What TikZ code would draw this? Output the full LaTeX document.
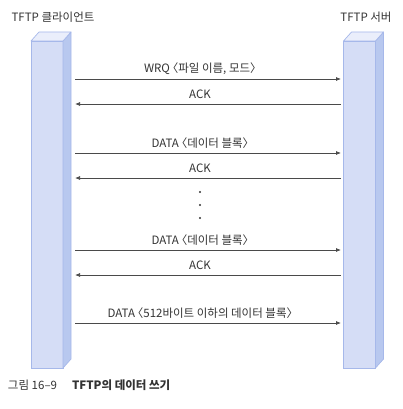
\documentclass[tikz,border=0pt]{standalone}
\usepackage{fontspec}
\setmainfont{Noto Sans CJK KR}[RawFeature=+halt]
\usetikzlibrary{arrows.meta}
\definecolor{barfront}{HTML}{D5DDF6}
\definecolor{barside}{HTML}{B8C8EF}
\definecolor{bartop}{HTML}{EAEEFB}
\definecolor{barline}{HTML}{A6B8EA}
\definecolor{msggray}{HTML}{4A4A4A}
\definecolor{txtgray}{HTML}{333333}

\begin{document}
\begin{tikzpicture}[
    x=1pt, y=-1pt,
    every node/.style={
        inner sep=0pt,
        outer sep=0pt,
        text=txtgray,
        font=\fontsize{11.5}{13}\selectfont,
    },
    front/.style={
        draw=barline, fill=barfront, rectangle,
        line width=.7pt,
        minimum width=32pt,
        minimum height=327pt,
    },
    side/.style={
        draw=barline, fill=barside,
        line width=.7pt, line join=round,
    },
    top/.style={
        draw=barline, fill=bartop,
        line width=.7pt, line join=round,
    },
    msg/.style={
        draw=msggray, line width=.75pt,
        -{Latex[length=5pt,width=4pt]},
    },
    dot/.style={
        circle, fill=txtgray,
        minimum size=2.4pt,
    }
]
    \useasboundingbox (0,0) rectangle (403,409);
    % the two bars
    \foreach \name/\x in {client/47,server/359.5}{
        \node[front] (\name) at (\x,204.5) {};
        \filldraw[side] (\name.south east) -- ++(8,-9) -- ++(0,-327)
            -- (\name.north east) -- cycle;
        \filldraw[top] (\name.north west) -- ++(8,-9) -- ++(32,0)
            -- (\name.north east) -- cycle;
    }
    \node (clienttitle) at (53,17) {TFTP 클라이언트};
    \node (servertitle) at (366,17) {TFTP 서버};
    % messages
    \foreach \i/\y/\dir/\txt in {%
        1/79/r/{WRQ 〈파일 이름, 모드〉},
        2/104/l/ACK,
        3/153/r/{DATA 〈데이터 블록〉},
        4/178/l/ACK,
        5/250/r/{DATA 〈데이터 블록〉},
        6/275/l/ACK,
        7/323/r/{DATA 〈512바이트 이하의 데이터 블록〉}%no comma after
    }{
        \coordinate (c\i) at (75,\y);
        \coordinate (s\i) at (341,\y);
        \node (lbl\i) at (200,\y-10) {\txt};
        \if r\dir
            \draw[msg] (c\i) -- (s\i);
        \else
            \draw[msg] (s\i) -- (c\i);
        \fi
    }
    \foreach \y [count=\k] in {192,205,218}{
        \node[dot] (dot\k) at (200,\y) {};
    }
    % caption
    \node[anchor=west] (fignum) at (8,385) {그림 16–9};
    \node[anchor=west,font=\fontsize{11.5}{13}\selectfont\bfseries] (figtitle) at (72,385) {TFTP의 데이터 쓰기};
\end{tikzpicture}
\end{document}
